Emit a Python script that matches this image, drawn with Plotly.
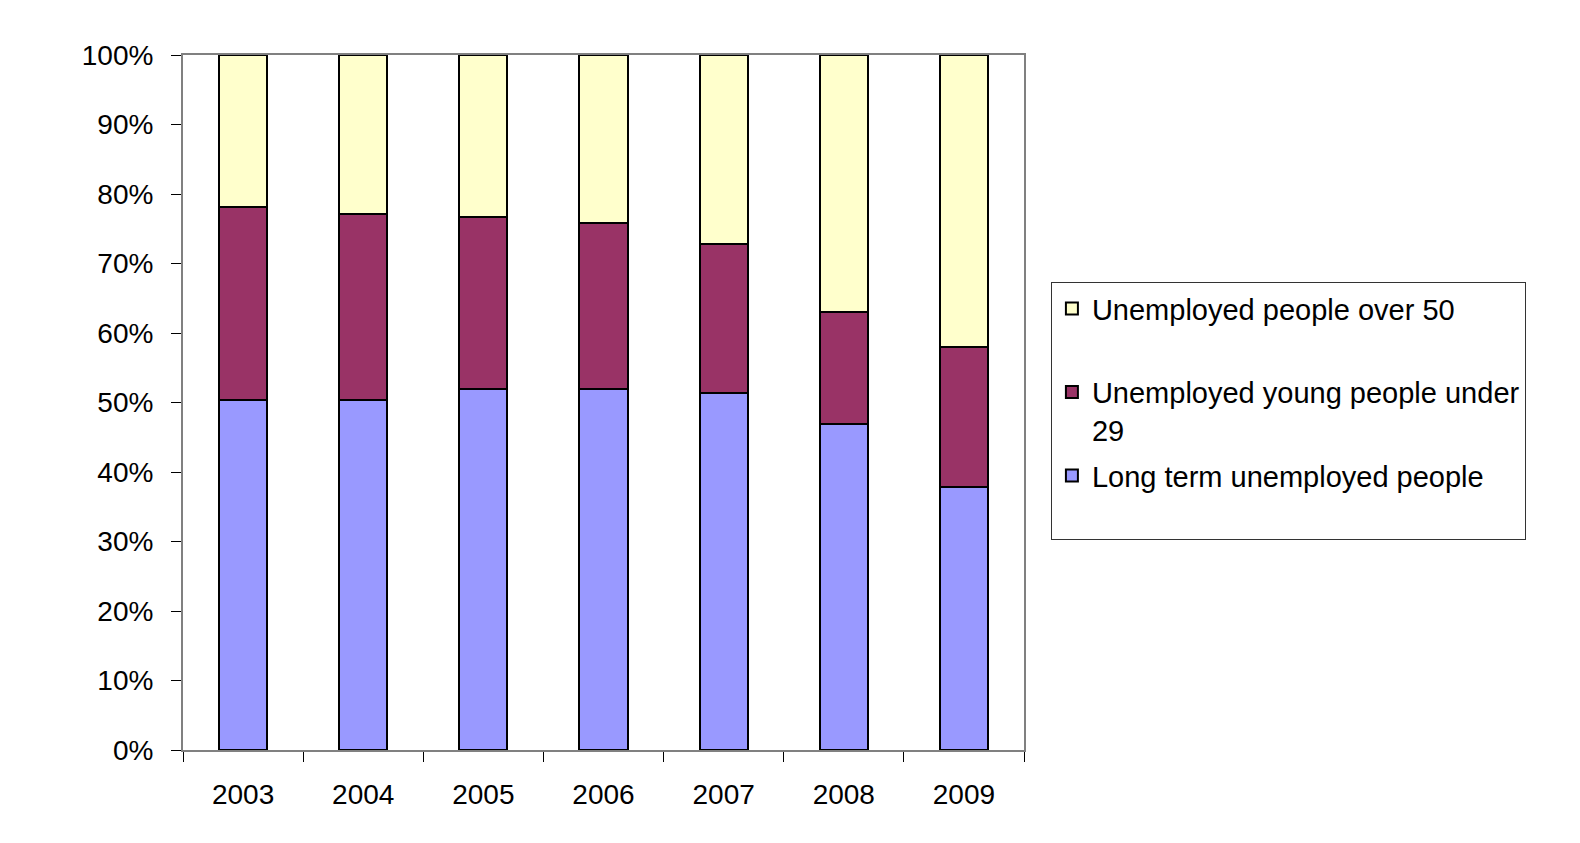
import plotly.graph_objects as go

# Share of each group in the unemployed total (%)
years = ["2003", "2004", "2005", "2006", "2007", "2008", "2009"]
long_term = [50.3, 50.3, 51.9, 52.0, 51.3, 46.9, 37.9]
young_under_29 = [27.8, 26.8, 24.8, 23.8, 21.5, 16.1, 20.1]
over_50 = [21.9, 22.9, 23.3, 24.2, 27.2, 37.0, 42.0]

tick_vals = [0, 10, 20, 30, 40, 50, 60, 70, 80, 90, 100]
tick_text = ["0%", "10%", "20%", "30%", "40%", "50%", "60%", "70%", "80%", "90%", "100%"]

# (legend label, values, colour, legend rank) - over 50 listed first in the legend
series = [
    ("Long term unemployed people<br> ", long_term, "#9999FF", 3),
    ("Unemployed young people under<br>29", young_under_29, "#993366", 2),
    ("Unemployed people over 50<br> ", over_50, "#FFFFCC", 1),
]

FONT = "Liberation Sans, Arial, sans-serif"

fig = go.Figure()
for i, (name, vals, color, rank) in enumerate(series):
    fig.add_trace(go.Bar(
        x=years, y=vals, name=name, legendgroup=f"g{i}", legendrank=rank,
        marker=dict(color=color, line=dict(color="black", width=2)),
    ))

# slide frame: white card on an orange backdrop
fig.add_shape(type="rect", xref="paper", yref="paper", layer="below",
              x0=-0.3, x1=1.6587, y0=-0.25, y1=1.2,
              fillcolor="white", line=dict(color="black", width=2))

fig.update_layout(
    width=1580, height=843,
    margin=dict(l=175, r=564, t=47, b=101),
    paper_bgcolor="#F3C566",
    plot_bgcolor="white",
    barmode="stack",
    bargap=0.6,
    font=dict(family=FONT, size=28, color="black"),
    showlegend=True,
    legend=dict(
        x=1.032, y=0.673, xanchor="left", yanchor="top",
        traceorder="grouped", tracegroupgap=5, valign="top",
        bordercolor="#333333", borderwidth=1, bgcolor="white",
        font=dict(family=FONT, size=29, color="black"),
    ),
    xaxis=dict(
        showline=True, linecolor="#808080", linewidth=2, mirror=True,
        ticks="outside", ticklen=10, tickcolor="black", tickson="boundaries",
        showgrid=False, tickfont=dict(size=28), ticklabelstandoff=18,
    ),
    yaxis=dict(
        range=[0, 100], tickvals=tick_vals, ticktext=tick_text,
        showline=True, linecolor="#808080", linewidth=2, mirror=True,
        ticks="outside", ticklen=10, tickcolor="black",
        showgrid=False, zeroline=False, tickfont=dict(size=28),
        ticklabelstandoff=12,
    ),
)

fig.write_html("out.html")
